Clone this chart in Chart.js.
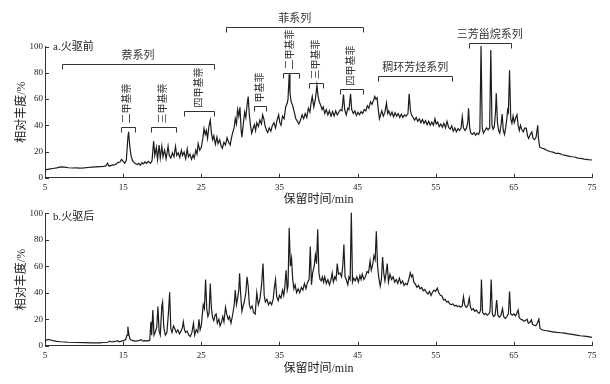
<!DOCTYPE html>
<html>
<head>
<meta charset="utf-8">
<script src="https://cdn.jsdelivr.net/npm/chart.js@4.4.1/dist/chart.umd.min.js"></script>
<style>
  body { margin: 0; background: #fff; }
  #wrap { position: relative; width: 610px; height: 384px; }
  canvas { position: absolute; left: 0; }
</style>
</head>
<body>
<div id="wrap">
  <canvas id="chartA" width="610" height="215" style="top:0"></canvas>
  <canvas id="chartB" width="610" height="179" style="top:205px"></canvas>
</div>
<script>
// 保留时间 (min) / 相对丰度 (%) — a.火驱前
const timeA = [5.0,5.5,6.0,6.5,7.0,7.5,8.0,8.5,9.0,9.5,10.0,10.5,11.0,11.5,12.0,12.5,12.8,13.0,13.2,13.6,14.0,14.3,14.6,14.8,15.0,15.2,15.4,15.6,15.7,15.85,16.0,16.2,16.5,16.8,17.0,17.2,17.4,17.6,17.8,18.0,18.2,18.5,18.7,18.9,19.05,19.25,19.4,19.6,19.75,19.95,20.1,20.3,20.5,20.75,20.9,21.1,21.3,21.5,21.7,21.85,22.05,22.25,22.45,22.6,22.8,23.0,23.2,23.35,23.55,23.75,23.95,24.1,24.3,24.45,24.6,24.8,25.0,25.2,25.35,25.5,25.65,25.8,26.0,26.15,26.3,26.45,26.6,26.8,27.0,27.15,27.35,27.55,27.7,27.9,28.1,28.3,28.5,28.7,28.85,29.0,29.2,29.35,29.5,29.65,29.8,29.95,30.1,30.2,30.4,30.55,30.7,30.85,31.0,31.15,31.3,31.45,31.6,31.8,31.95,32.1,32.3,32.5,32.7,32.85,33.0,33.15,33.35,33.5,33.7,33.9,34.1,34.3,34.5,34.7,34.9,35.05,35.2,35.4,35.6,35.8,36.0,36.1,36.25,36.35,36.5,36.7,36.9,37.1,37.3,37.5,37.7,37.9,38.1,38.3,38.5,38.7,38.9,39.05,39.2,39.4,39.6,39.8,39.95,40.1,40.3,40.45,40.6,40.8,41.0,41.2,41.4,41.6,41.8,42.0,42.2,42.4,42.6,42.8,43.0,43.2,43.35,43.55,43.75,43.9,44.1,44.25,44.45,44.65,44.85,45.05,45.25,45.45,45.65,45.85,46.05,46.25,46.45,46.65,46.85,47.05,47.2,47.35,47.5,47.65,47.8,47.95,48.1,48.3,48.5,48.7,48.85,49.0,49.2,49.4,49.6,49.8,50.0,50.2,50.4,50.6,50.8,51.0,51.2,51.45,51.6,51.75,51.9,52.1,52.3,52.5,52.7,52.9,53.1,53.3,53.5,53.7,53.9,54.1,54.3,54.5,54.7,54.9,55.05,55.25,55.45,55.65,55.85,56.05,56.25,56.45,56.65,56.85,57.05,57.25,57.45,57.65,57.85,58.05,58.25,58.4,58.55,58.75,58.95,59.1,59.2,59.35,59.5,59.7,59.9,60.1,60.3,60.5,60.65,60.8,60.95,61.1,61.3,61.5,61.7,61.9,62.05,62.2,62.35,62.5,62.65,62.75,62.9,63.05,63.2,63.35,63.5,63.65,63.8,63.95,64.1,64.2,64.3,64.45,64.6,64.75,64.9,65.05,65.2,65.4,65.55,65.7,65.85,66.0,66.2,66.4,66.6,66.75,66.9,67.1,67.3,67.45,67.65,67.85,68.05,68.15,68.3,68.6,68.9,69.2,69.6,70.0,70.4,70.8,71.2,71.6,72.0,72.4,72.8,73.2,73.6,74.0,74.5,75.0];
const abundA = [6.0,6.5,7.0,7.5,8.3,8.0,7.6,7.4,7.5,7.3,7.5,7.8,8.0,8.2,8.4,8.6,9.0,11.0,8.8,9.6,10.0,11.5,12.0,14.0,12.5,11.0,13.0,30.0,35.0,24.0,17.0,13.0,11.0,10.0,11.0,9.5,11.5,10.5,12.0,11.0,12.5,11.0,13.0,28.0,17.0,23.0,14.0,25.0,15.0,24.0,16.0,21.0,14.5,24.0,17.0,15.0,19.0,16.0,24.0,17.0,19.0,15.5,21.0,17.0,19.5,14.5,22.0,16.0,18.0,14.0,17.5,15.0,21.0,18.0,26.0,21.0,23.0,30.0,37.5,33.0,36.0,30.0,40.0,44.0,34.0,29.0,32.0,25.5,31.0,26.0,29.0,24.0,22.5,27.0,25.0,30.5,27.0,25.0,30.0,34.0,38.0,45.0,41.0,52.0,47.0,54.0,36.0,31.0,42.0,50.0,46.0,55.0,62.0,48.0,40.0,34.0,37.0,40.5,36.0,42.0,39.0,44.0,41.0,48.0,45.0,40.0,36.0,34.5,38.0,35.5,40.0,42.0,38.0,44.0,48.0,42.0,40.0,47.0,45.0,54.0,57.0,60.0,79.0,65.0,58.0,55.0,50.0,45.0,43.0,41.0,44.0,48.0,45.0,49.0,46.0,53.0,50.0,57.0,62.0,54.0,60.0,70.5,62.0,58.0,55.0,52.0,54.0,49.0,52.0,48.0,51.0,47.0,50.5,47.0,51.0,48.0,50.0,52.0,51.0,63.5,52.0,48.0,53.0,52.0,64.0,52.0,49.0,51.0,47.5,50.0,48.0,50.5,49.0,52.0,51.0,55.0,53.0,58.0,56.0,59.0,62.0,60.0,61.0,52.0,45.0,48.0,51.0,47.0,50.0,57.0,49.0,51.0,47.5,50.0,46.5,49.5,47.0,49.0,46.0,48.5,46.0,48.0,47.0,49.0,64.0,52.0,48.0,46.0,44.0,46.0,43.0,45.0,42.0,44.5,41.5,43.5,40.5,43.0,40.0,42.5,40.0,45.0,41.0,42.5,39.0,41.0,38.5,41.5,38.0,43.0,38.5,37.0,39.5,35.5,38.0,35.0,37.5,36.0,38.0,46.5,38.0,36.0,38.0,42.0,53.0,38.0,34.0,33.0,34.5,32.5,34.0,33.0,36.0,100.5,38.0,34.0,36.0,38.0,36.5,38.0,97.5,40.0,37.0,39.0,50.0,64.4,42.0,36.0,34.0,40.0,48.5,36.0,33.0,38.0,45.0,51.7,50.0,82.0,45.0,41.5,47.0,42.0,45.0,48.0,40.0,36.0,40.0,37.0,35.0,38.0,37.7,32.0,30.0,33.0,35.0,30.0,29.0,31.0,40.0,30.0,23.5,22.5,22.0,21.0,20.0,19.5,18.5,18.5,17.5,17.0,16.5,16.0,15.8,15.0,14.8,14.2,13.8,13.5];

// b.火驱后
const timeB = [5.0,5.2,5.4,5.7,6.0,6.5,7.0,7.5,8.0,9.0,10.0,11.0,12.0,12.5,13.0,13.3,13.5,14.0,14.3,14.5,14.8,15.0,15.3,15.5,15.6,15.75,15.9,16.2,16.6,17.0,17.3,17.5,17.8,18.2,18.4,18.55,18.65,18.8,18.95,19.1,19.3,19.45,19.6,19.75,19.95,20.05,20.2,20.4,20.6,20.8,20.95,21.1,21.25,21.45,21.6,21.8,22.0,22.2,22.4,22.6,22.7,22.85,23.0,23.2,23.4,23.6,23.8,24.0,24.15,24.35,24.55,24.7,24.85,25.0,25.15,25.25,25.4,25.55,25.7,25.85,26.0,26.15,26.3,26.45,26.6,26.75,26.9,27.05,27.25,27.4,27.6,27.75,27.9,28.1,28.25,28.45,28.6,28.8,29.0,29.2,29.35,29.5,29.65,29.8,29.9,30.05,30.2,30.35,30.5,30.7,30.85,31.0,31.15,31.3,31.5,31.7,31.9,32.1,32.3,32.5,32.7,32.9,33.05,33.2,33.4,33.6,33.8,34.0,34.2,34.35,34.5,34.65,34.85,35.0,35.2,35.4,35.55,35.7,35.85,36.0,36.1,36.25,36.4,36.55,36.7,36.85,37.0,37.2,37.4,37.6,37.8,38.0,38.2,38.4,38.6,38.8,38.95,39.1,39.25,39.45,39.6,39.75,39.9,40.05,40.2,40.35,40.5,40.65,40.8,41.0,41.2,41.4,41.6,41.75,41.9,42.1,42.25,42.4,42.55,42.75,42.95,43.1,43.25,43.4,43.55,43.75,43.9,44.05,44.2,44.35,44.5,44.7,44.9,45.1,45.3,45.45,45.6,45.8,46.0,46.2,46.4,46.6,46.75,46.95,47.1,47.25,47.4,47.55,47.7,47.9,48.05,48.2,48.35,48.5,48.65,48.8,48.95,49.15,49.35,49.55,49.75,49.95,50.15,50.35,50.55,50.75,50.95,51.15,51.35,51.55,51.75,51.9,52.05,52.2,52.4,52.6,52.8,53.0,53.2,53.4,53.6,53.8,54.0,54.2,54.4,54.6,54.8,55.0,55.2,55.4,55.6,55.8,56.0,56.2,56.4,56.6,56.8,57.0,57.2,57.4,57.6,57.8,58.0,58.2,58.4,58.55,58.7,58.9,59.1,59.3,59.45,59.6,59.8,60.0,60.2,60.4,60.6,60.75,60.85,61.0,61.2,61.4,61.6,61.8,61.95,62.1,62.25,62.4,62.6,62.8,62.95,63.15,63.35,63.55,63.7,63.9,64.1,64.3,64.45,64.6,64.8,65.0,65.2,65.35,65.55,65.7,65.9,66.1,66.3,66.5,66.7,66.85,67.05,67.25,67.4,67.6,67.8,68.0,68.2,68.35,68.6,69.0,69.5,70.0,70.5,71.0,71.5,72.0,72.5,73.0,73.5,74.0,74.5,75.0];
const abundB = [3.5,4.3,4.8,4.3,3.8,3.3,3.0,2.8,2.6,2.4,2.3,2.2,2.2,2.4,2.6,3.5,2.8,3.2,3.8,3.0,3.5,3.8,4.5,8.0,14.4,8.0,4.8,3.8,3.5,3.8,4.6,3.5,3.8,3.6,4.0,18.0,8.0,27.0,8.0,10.0,14.0,29.5,11.0,8.0,30.0,33.0,14.0,8.0,10.0,25.0,40.3,13.0,10.0,15.0,13.0,10.0,12.0,9.0,11.0,14.0,18.0,12.0,10.0,11.0,8.0,7.0,10.0,17.0,8.0,12.0,10.0,20.0,12.0,15.0,25.0,31.0,28.0,50.0,28.0,22.0,25.0,47.0,28.0,21.0,19.0,23.0,24.0,17.0,20.0,15.0,18.0,22.0,18.0,29.0,24.0,20.0,22.0,17.0,23.0,30.0,42.0,31.0,36.0,42.0,54.7,38.0,26.0,30.0,33.0,40.0,52.0,45.0,31.0,28.0,30.0,25.0,24.0,40.0,31.0,35.0,45.0,62.0,38.0,33.0,35.0,31.0,33.0,31.0,35.0,44.0,50.0,37.0,34.0,38.0,36.0,42.0,38.0,45.0,57.0,42.0,45.0,89.0,60.0,66.0,50.0,43.0,46.0,40.0,43.0,40.0,44.0,42.0,47.0,43.0,48.0,50.0,75.0,46.0,55.0,60.0,68.5,62.0,88.0,55.0,50.0,49.0,52.0,48.0,52.0,47.0,50.0,46.0,50.0,55.0,48.0,52.0,50.0,62.0,54.0,55.0,52.0,60.0,76.5,52.0,50.0,46.0,52.0,50.0,100.5,48.0,51.0,49.0,52.0,48.0,53.0,50.0,54.0,50.0,52.0,56.0,55.0,64.0,57.0,62.0,68.0,65.0,86.5,61.0,52.0,45.0,50.0,67.0,55.0,49.0,55.0,62.0,48.0,54.0,50.0,52.0,48.0,50.0,47.0,51.0,47.0,49.0,45.5,47.0,46.0,50.0,55.0,52.0,53.5,48.0,46.5,44.0,45.5,43.0,44.0,41.5,42.5,40.5,39.0,41.0,38.0,40.5,42.0,41.0,43.5,40.0,38.0,37.5,34.5,35.0,33.0,33.5,31.5,31.0,31.5,30.0,30.5,29.5,30.0,29.0,30.0,37.0,31.0,29.0,30.0,36.0,29.0,27.0,28.0,26.0,27.0,25.0,24.5,27.0,50.0,25.0,23.5,24.5,23.0,24.0,26.0,50.0,24.0,22.0,23.0,34.5,23.0,21.5,23.0,28.0,22.0,20.5,22.0,24.0,41.0,24.0,23.0,24.0,22.5,24.0,27.0,21.0,20.0,19.5,18.5,19.0,20.0,17.0,17.5,19.5,16.0,15.5,15.0,17.0,20.0,13.0,12.0,11.5,11.0,10.5,10.0,9.8,9.5,9.0,8.5,8.0,7.5,7.2,6.8,6.3];

const xTicks = [5, 15, 25, 35, 45, 55, 65, 75];
const yTicks = [0, 20, 40, 60, 80, 100];

// 系列括号: 名称, 起止时间, 括号高度
const seriesNames = ["萘系列", "菲系列", "稠环芳烃系列", "三芳甾烷系列"];
const seriesRange = [[7.2, 26.6], [28.2, 45.7], [47.65, 57.1], [59.2, 64.6]];
const seriesLevel = [86.5, 115, 77.6, 102.6];

// 化合物括号 (竖排文字)
const compNames = ["二甲基萘", "三甲基萘", "四甲基萘", "甲基菲", "二甲基菲", "三甲基菲", "四甲基菲"];
const compRange = [[14.7, 16.5], [18.6, 21.75], [22.8, 26.6], [31.7, 33.3], [35.4, 37.5], [38.75, 40.6], [42.7, 45.7]];
const compLevel = [39, 39, 51, 54.7, 80, 72.5, 68];

const FONT = "'Liberation Serif', 'Noto Sans CJK SC', serif";
const INK = "#1c1c1c";

// 刻度朝内
const innerTicks = {
    id: "innerTicks",
    afterDraw(chart) {
        const {ctx, chartArea, scales} = chart;
        ctx.save();
        ctx.strokeStyle = "#333";
        ctx.lineWidth = 1;
        ctx.beginPath();
        xTicks.forEach(v => {
            const px = Math.round(scales.x.getPixelForValue(v)) + 0.5;
            ctx.moveTo(px, chartArea.bottom);
            ctx.lineTo(px, chartArea.bottom - 4);
        });
        yTicks.forEach(v => {
            const py = Math.round(scales.y.getPixelForValue(v)) + 0.5;
            ctx.moveTo(chartArea.left, py);
            ctx.lineTo(chartArea.left + 4, py);
        });
        ctx.stroke();
        ctx.restore();
    }
};

const panelLabel = {
    id: "panelLabel",
    afterDraw(chart, args, opts) {
        const {ctx, chartArea} = chart;
        ctx.save();
        ctx.fillStyle = INK;
        ctx.font = "11px " + FONT;
        ctx.textBaseline = "middle";
        ctx.textAlign = "left";
        ctx.fillText(opts.text, chartArea.left + 8, chartArea.top + opts.dy);
        ctx.restore();
    }
};

function bracket(ctx, x1, x2, y, drop) {
    ctx.beginPath();
    ctx.moveTo(x1, y + drop);
    ctx.lineTo(x1, y);
    ctx.lineTo(x2, y);
    ctx.lineTo(x2, y + drop);
    ctx.stroke();
}

const annotations = {
    id: "annotations",
    afterDraw(chart) {
        const {ctx, scales} = chart;
        const X = v => scales.x.getPixelForValue(v);
        const Y = v => scales.y.getPixelForValue(v);
        ctx.save();
        ctx.strokeStyle = "#333";
        ctx.fillStyle = "#333";
        ctx.lineWidth = 1;
        ctx.textAlign = "center";
        ctx.textBaseline = "middle";

        ctx.font = "11px " + FONT;
        seriesNames.forEach((name, i) => {
            const [a, b] = seriesRange[i];
            const y = Math.round(Y(seriesLevel[i])) + 0.5;
            bracket(ctx, Math.round(X(a)) + 0.5, Math.round(X(b)) + 0.5, y, 5);
            ctx.fillText(name, X((a + b) / 2), y - 8);
        });

        ctx.font = "10px " + FONT;
        compNames.forEach((name, i) => {
            const [a, b] = compRange[i];
            const y = Math.round(Y(compLevel[i])) + 0.5;
            bracket(ctx, Math.round(X(a)) + 0.5, Math.round(X(b)) + 0.5, y, 5);
            const w = ctx.measureText(name).width;
            ctx.save();
            ctx.translate(X((a + b) / 2), y - 4 - w / 2);
            ctx.rotate(-Math.PI / 2);
            ctx.fillText(name, 0, 0);
            ctx.restore();
        });
        ctx.restore();
    }
};

function makeChart(id, times, values, label, xHeight, padTop, labelDy, extra) {
    const ctx = document.getElementById(id).getContext("2d");
    return new Chart(ctx, {
        type: "line",
        data: {
            datasets: [{
                data: times.map((t, i) => ({x: t, y: values[i]})),
                borderColor: INK,
                borderWidth: 1.2,
                pointRadius: 0,
                tension: 0,
                clip: false
            }]
        },
        options: {
            responsive: false,
            animation: false,
            events: [],
            layout: {padding: {top: padTop, right: 18, bottom: 0, left: 0}},
            plugins: {
                legend: {display: false},
                tooltip: {enabled: false},
                panelLabel: {text: label, dy: labelDy}
            },
            scales: {
                x: {
                    type: "linear",
                    min: 5,
                    max: 75,
                    afterBuildTicks: s => { s.ticks = xTicks.map(v => ({value: v})); },
                    afterFit: s => { s.height = xHeight; },
                    grid: {display: false, drawTicks: false},
                    border: {display: true, color: "#333", width: 1},
                    ticks: {font: {family: FONT, size: 9}, color: "#222", padding: 5, maxRotation: 0},
                    title: {display: true, text: "保留时间/min", color: "#222",
                            font: {family: FONT, size: 12}, padding: {top: 0, bottom: 7.8}}
                },
                y: {
                    min: 0,
                    max: 100,
                    afterBuildTicks: s => { s.ticks = yTicks.map(v => ({value: v})); },
                    afterFit: s => { s.width = 45; },
                    grid: {display: false, drawTicks: false},
                    border: {display: true, color: "#333", width: 1},
                    ticks: {font: {family: FONT, size: 9}, color: "#222", padding: 2},
                    title: {display: true, text: "相对丰度/%", color: "#222",
                            font: {family: FONT, size: 12}, padding: {top: 14.5, bottom: 0}}
                }
            }
        },
        plugins: [innerTicks, panelLabel].concat(extra)
    });
}

makeChart("chartA", timeA, abundA, "a.火驱前", 37.3, 46.7, 0, [annotations]);
makeChart("chartB", timeB, abundB, "b.火驱后", 38.3, 8.3, 4, []);
</script>
</body>
</html>
